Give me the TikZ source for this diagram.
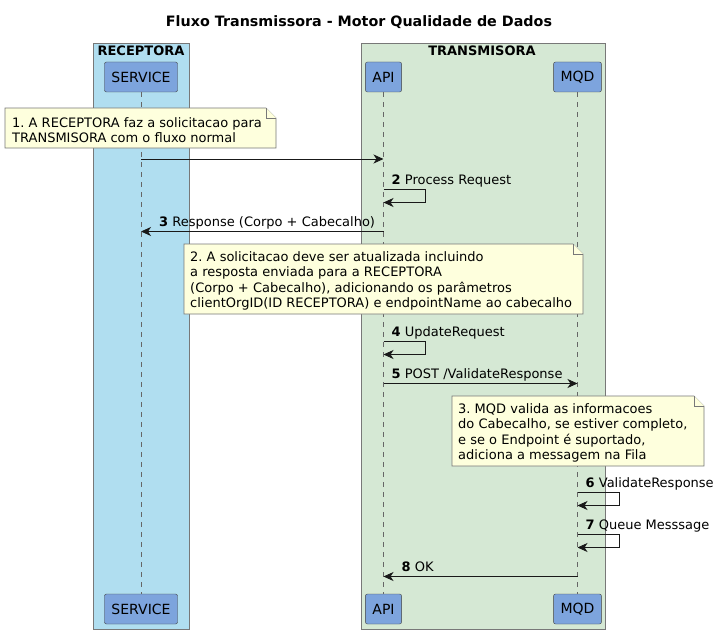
\documentclass[tikz,border=0pt]{standalone}
\usepackage{fontspec}
\setmainfont{DejaVu Sans}
\usetikzlibrary{arrows.meta}
\frenchspacing

\definecolor{recbg}{RGB}{176,222,240}
\definecolor{trabg}{RGB}{213,232,212}
\definecolor{partbg}{RGB}{125,164,221}
\definecolor{notebg}{RGB}{254,255,221}
\definecolor{boxline}{RGB}{120,120,120}

\tikzset{
  part/.style={draw=black!75,fill=partbg,rounded corners=2pt,minimum height=30pt,
    inner xsep=7pt,font=\fontsize{14}{16}\selectfont},
  life/.style={draw=black!60,dash pattern=on 5pt off 5pt},
  msg/.style={draw=black!90,line width=0.8pt,-{Stealth[length=10pt,width=9pt,inset=3pt]}},
  lbl/.style={anchor=base west,inner sep=0pt,font=\fontsize{13}{15}\selectfont},
  notetext/.style={anchor=north west,inner sep=0pt,align=left,font=\fontsize{13}{15.6}\selectfont},
  notebox/.style={draw=boxline,fill=notebg,line width=0.6pt},
}

\begin{document}
\begin{tikzpicture}[x=1pt,y=-1pt]
\useasboundingbox[fill=white] (0,0) rectangle (718,634);

% title
\node[font=\bfseries\fontsize{14.3}{16}\selectfont] (title) at (359,22) {Fluxo Transmissora - Motor Qualidade de Dados};

% boxes
\filldraw[draw=boxline,fill=recbg,line width=0.6pt] (93,43) rectangle (189,629);
\filldraw[draw=boxline,fill=trabg,line width=0.6pt] (361,43) rectangle (605,629);
\node[font=\bfseries\fontsize{13}{15}\selectfont,inner sep=0pt,anchor=base] (rec) at (141,55.5) {RECEPTORA};
\node[font=\bfseries\fontsize{13}{15}\selectfont,inner sep=0pt,anchor=base] (tra) at (482,55.5) {TRANSMISORA};

% participants
\foreach \n/\t/\x in {s/SERVICE/141,a/API/383.5,m/MQD/577.5}{
  \node[part] (\n-top) at (\x,77) {\t};
  \node[part] (\n-bot) at (\x,609) {\t};
  \draw[life] (\n-top) -- (\n-bot);
}

% rows
\foreach \r/\y in {1/159,2/189.5,3/231.5,4/341.5,5/383.5,6/492.5,7/534.5,8/576.5}{
  \coordinate (r\r) at (0,\y);
}

% note 1
\filldraw[notebox] (5,108) -- (266,108) -- (276,118) -- (276,148) -- (5,148) -- cycle;
\draw[notebox] (266,108) -- (266,118) -- (276,118);
\node[notetext] (n1) at (12,117) {1. A RECEPTORA faz a solicitacao para\\TRANSMISORA com o fluxo normal};

\draw[msg] (s-top |- r1) -- (a-top |- r1);

% self messages
\foreach \i/\n/\l in {2/a/Process Request,4/a/UpdateRequest,6/m/ValidateResponse,7/m/Queue Messsage}{
  \draw[msg] (\n-top |- r\i) -- ++(42,0) -- ++(0,13) -- ++(-42,0);
  \node[lbl] (l\i) at ([xshift=8pt,yshift=5pt]\n-top |- r\i) {\textbf{\i} \l};
}

\draw[msg] (a-top |- r3) -- (s-top |- r3);
\node[lbl] (l3) at ([xshift=18pt,yshift=5pt]s-top |- r3) {\textbf{3} Response (Corpo + Cabecalho)};

% note 2
\filldraw[notebox] (184,244) -- (573,244) -- (583,254) -- (583,314) -- (184,314) -- cycle;
\draw[notebox] (573,244) -- (573,254) -- (583,254);
\node[notetext] (n2) at (190,251) {2. A solicitacao deve ser atualizada incluindo\\a resposta enviada para a RECEPTORA\\(Corpo + Cabecalho), adicionando os parâmetros\\clientOrgID(ID RECEPTORA) e endpointName ao cabecalho};

\draw[msg] (a-top |- r5) -- (m-top |- r5);
\node[lbl] (l5) at ([xshift=8pt,yshift=5pt]a-top |- r5) {\textbf{5} POST /ValidateResponse};

% note 3
\filldraw[notebox] (452,396) -- (694,396) -- (704,406) -- (704,466) -- (452,466) -- cycle;
\draw[notebox] (694,396) -- (694,406) -- (704,406);
\node[notetext] (n3) at (458,403) {3. MQD valida as informacoes\\do Cabecalho, se estiver completo,\\e se o Endpoint é suportado,\\adiciona a messagem na Fila};

\draw[msg] (m-top |- r8) -- (a-top |- r8);
\node[lbl] (l8) at ([xshift=18pt,yshift=5pt]a-top |- r8) {\textbf{8} OK};
\end{tikzpicture}
\end{document}
